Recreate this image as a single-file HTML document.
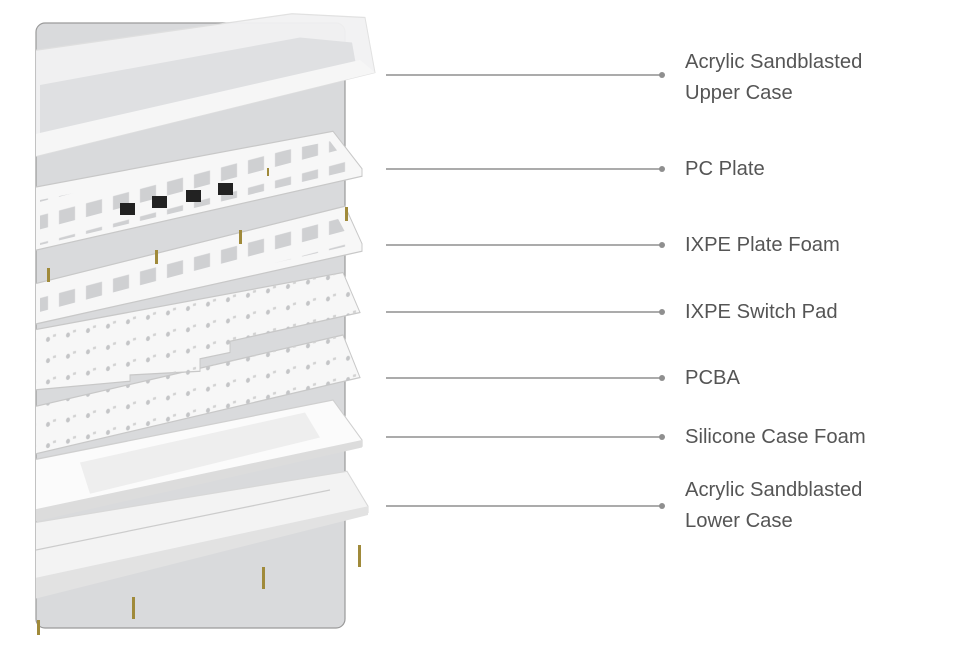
<!DOCTYPE html>
<html><head><meta charset="utf-8"><style>
html,body{margin:0;padding:0;background:#fff;}
body{width:960px;height:650px;overflow:hidden;position:relative;font-family:"Liberation Sans",sans-serif;}
.l{position:absolute;left:685px;font-size:20.2px;color:#555;line-height:31px;}
</style></head><body>
<svg width="960" height="650" style="position:absolute;left:0;top:0">
<defs>
<pattern id="sq" width="27" height="22" patternUnits="userSpaceOnUse" patternTransform="skewY(-12)">
<rect x="5" y="5" width="16" height="11" fill="#cfd0d2"/></pattern>
<pattern id="dots" width="20" height="17" patternUnits="userSpaceOnUse" patternTransform="skewY(-10)">
<circle cx="8" cy="8" r="2" fill="#c4c5c7"/><rect x="13" y="5" width="3" height="2" fill="#d2d2d2"/></pattern>
<clipPath id="pc"><rect x="36" y="0" width="400" height="650"/></clipPath>
</defs>
<rect x="36" y="23" width="309" height="605" rx="9" fill="#d9dadc" stroke="#9a9a9a" stroke-width="1.2"/>
<g clip-path="url(#pc)">
<g transform="scale(1,1.25)">
<!-- lower case -->
<polygon points="20,420 347,377 368,405 368,410 20,478" fill="#f3f3f3" stroke="#d8d8d8"/>
<polygon points="20,465 368,405 368,412 20,482" fill="#e2e2e2"/>
<line x1="36" y1="440" x2="330" y2="392" stroke="#ccc"/>
<!-- case foam -->
<polygon points="20,370 333,320 362,352 362,357 20,417" fill="#fbfbfb" stroke="#cfcfcf"/>
<polygon points="90,395 320,350 305,330 80,370" fill="#eeeeee"/>
<polygon points="20,410 362,352 362,358 20,420" fill="#dcdcdc"/>
<!-- PCBA -->
<polygon points="20,328 343,268 360,302 20,366" fill="#f7f7f7" stroke="#c8c8c8"/>
<polygon points="20,328 343,268 360,302 20,366" fill="url(#dots)"/>
<!-- switch pad -->
<polygon points="20,266 343,218 360,250 230,273 230,282 200,287 200,297 130,300 130,305 20,313" fill="#f7f7f7" stroke="#c8c8c8"/>
<polygon points="20,266 343,218 360,250 230,273 230,282 200,287 200,297 130,300 130,305 20,313" fill="url(#dots)"/>
<!-- IXPE foam -->
<polygon points="20,230 345,165 362,195 362,201 20,262" fill="#f7f7f7" stroke="#c8c8c8"/>
<polygon points="40,238 338,175 352,196 40,254" fill="url(#sq)"/>
<!-- PC plate -->
<polygon points="20,152 333,105 362,135 362,141 20,203" fill="#f7f7f7" stroke="#c8c8c8"/>
<polygon points="40,160 330,113 352,136 40,196" fill="url(#sq)"/>
<!-- upper case frame -->
<polygon points="20,42 292,11 365,14 375,58 20,128" fill="#f2f2f3" stroke="#e0e0e0" opacity="0.95"/>
<polygon points="40,68 300,30 352,34 356,52 40,108" fill="#dfe0e2"/>
<polygon points="20,110 360,48 375,58 20,128" fill="#f6f6f6"/>
</g>
</g>
<g fill="#222"><rect x="120" y="203" width="15" height="12"/><rect x="152" y="196" width="15" height="12"/><rect x="186" y="190" width="15" height="12"/><rect x="218" y="183" width="15" height="12"/></g>
<!-- screws -->
<g fill="#a08a3a"><rect x="267" y="168" width="2" height="8"/><rect x="345" y="207" width="3" height="14"/><rect x="239" y="230" width="3" height="14"/><rect x="155" y="250" width="3" height="14"/><rect x="47" y="268" width="3" height="14"/><rect x="358" y="545" width="3" height="22"/><rect x="262" y="567" width="3" height="22"/><rect x="132" y="597" width="3" height="22"/><rect x="37" y="620" width="3" height="15"/></g>
<g stroke="#8f8f8f" stroke-width="1.5" fill="#8f8f8f">
<line x1="386" y1="75" x2="662" y2="75"/><circle cx="662" cy="75" r="3" stroke="none"/>
<line x1="386" y1="169" x2="662" y2="169"/><circle cx="662" cy="169" r="3" stroke="none"/>
<line x1="386" y1="245" x2="662" y2="245"/><circle cx="662" cy="245" r="3" stroke="none"/>
<line x1="386" y1="312" x2="662" y2="312"/><circle cx="662" cy="312" r="3" stroke="none"/>
<line x1="386" y1="378" x2="662" y2="378"/><circle cx="662" cy="378" r="3" stroke="none"/>
<line x1="386" y1="437" x2="662" y2="437"/><circle cx="662" cy="437" r="3" stroke="none"/>
<line x1="386" y1="506" x2="662" y2="506"/><circle cx="662" cy="506" r="3" stroke="none"/>
</g>
</svg>
<div class="l" style="top:47px">Acrylic Sandblasted<br>Upper Case</div>
<div class="l" style="top:154px">PC Plate</div>
<div class="l" style="top:230px">IXPE Plate Foam</div>
<div class="l" style="top:297px">IXPE Switch Pad</div>
<div class="l" style="top:363px">PCBA</div>
<div class="l" style="top:422px">Silicone Case Foam</div>
<div class="l" style="top:475px">Acrylic Sandblasted<br>Lower Case</div>
</body></html>
